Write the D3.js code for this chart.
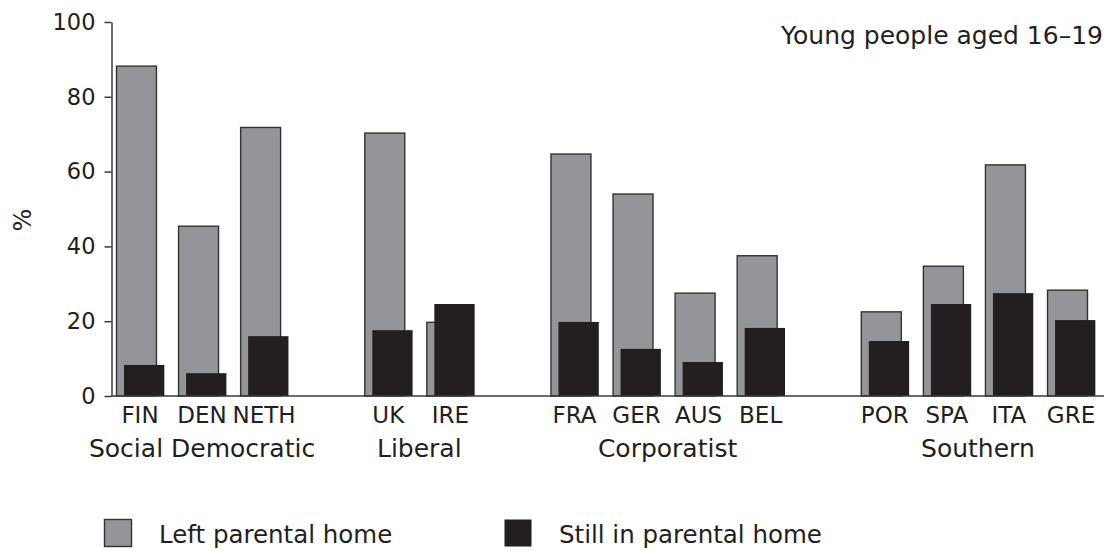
<!DOCTYPE html>
<html>
<head>
<meta charset="utf-8">
<script src="https://cdn.jsdelivr.net/npm/d3@7"></script>
<style>
  html, body { margin: 0; padding: 0; background: #fff; }
  svg { display: block; }
  text { font-family: "DejaVu Sans", sans-serif; fill: #231f20; }
</style>
</head>
<body>
<svg id="chart" width="1112" height="551"></svg>
<script>
// ---- Data ----
const groups = ["Social Democratic", "Liberal", "Corporatist", "Southern"];
const groupCountries = [
  ["FIN", "DEN", "NETH"],
  ["UK", "IRE"],
  ["FRA", "GER", "AUS", "BEL"],
  ["POR", "SPA", "ITA", "GRE"]
];
const countries = ["FIN","DEN","NETH","UK","IRE","FRA","GER","AUS","BEL","POR","SPA","ITA","GRE"];
const leftHome  = [88.2, 45.4, 71.8, 70.3, 19.7, 64.7, 54.0, 27.5, 37.5, 22.5, 34.7, 61.8, 28.3];
const stillHome = [ 8.3,  6.1, 16.0, 17.6, 24.6, 19.8, 12.6,  9.1, 18.2, 14.7, 24.6, 27.5, 20.3];
const seriesNames = ["Left parental home", "Still in parental home"];
const yTicks = [0, 20, 40, 60, 80, 100];
const title = "Young people aged 16\u201319";
const yLabel = "%";

// ---- Layout ----
const svg = d3.select("#chart");
const greyFill = "#939598", blackFill = "#231f20", axisCol = "#3a3a3a";

// slot domain: countries with a spacer between groups
const slots = [];
groupCountries.forEach((cs, i) => {
  cs.forEach(c => slots.push(c));
  if (i < groupCountries.length - 1) slots.push("_gap" + i);
});

const x = d3.scaleBand().domain(slots).range([116, 1095]).paddingInner(0.227).paddingOuter(0);
const y = d3.scaleLinear().domain([0, 100]).range([396, 22]);
const bw = x.bandwidth();

// Bars
const data = countries.map((c, i) => ({ c, left: leftHome[i], still: stillHome[i] }));
const g = svg.append("g");
const barG = g.selectAll("g.bar").data(data).join("g").attr("class", "bar");
barG.append("rect")
  .attr("x", d => x(d.c) + 0.5)
  .attr("y", d => y(d.left))
  .attr("width", bw * 0.833)
  .attr("height", d => y(0) - y(d.left))
  .attr("fill", greyFill)
  .attr("stroke", "#333")
  .attr("stroke-width", 1.4);
barG.append("rect")
  .attr("x", d => x(d.c) + bw * 0.167)
  .attr("y", d => y(d.still))
  .attr("width", bw * 0.84)
  .attr("height", d => y(0) - y(d.still))
  .attr("fill", blackFill);

// Y axis
const yAxis = d3.axisLeft(y).tickValues(yTicks).tickSize(7).tickPadding(9).tickSizeOuter(0);
const yg = svg.append("g").attr("transform", "translate(111.5,0)").call(yAxis);
yg.select(".domain").attr("stroke", axisCol).attr("stroke-width", 1.5);
yg.selectAll(".tick line").attr("stroke", axisCol).attr("stroke-width", 1.5);
yg.selectAll(".tick text")
  .attr("font-family", "DejaVu Sans, sans-serif")
  .attr("font-size", 22.5)
  .attr("fill", "#231f20");

// X axis baseline
svg.append("line")
  .attr("x1", 111).attr("x2", 1104)
  .attr("y1", y(0)).attr("y2", y(0))
  .attr("stroke", axisCol).attr("stroke-width", 1.5);

// Country labels
svg.selectAll("text.country").data(countries).join("text")
  .attr("class", "country")
  .attr("x", c => x(c) + bw / 2)
  .attr("y", 423)
  .attr("text-anchor", "middle")
  .attr("font-size", 23)
  .text(c => c);

// Group labels
svg.selectAll("text.group").data(groups).join("text")
  .attr("class", "group")
  .attr("x", (gname, i) => {
    const cs = groupCountries[i];
    return (x(cs[0]) + x(cs[cs.length - 1]) + bw) / 2;
  })
  .attr("y", 457)
  .attr("text-anchor", "middle")
  .attr("font-size", 25)
  .text(gname => gname);

// Title
svg.append("text")
  .attr("x", 1103).attr("y", 44)
  .attr("text-anchor", "end")
  .attr("font-size", 25)
  .text(title);

// Y label
svg.append("text")
  .attr("transform", "translate(31,220) rotate(-90)")
  .attr("text-anchor", "middle")
  .attr("font-size", 24)
  .text(yLabel);

// Legend
const legend = [
  { name: seriesNames[0], fill: greyFill, stroke: "#333", x: 104 },
  { name: seriesNames[1], fill: blackFill, stroke: "none", x: 504 }
];
const lg = svg.selectAll("g.legend").data(legend).join("g").attr("class", "legend");
lg.append("rect")
  .attr("x", d => d.x + 0.5).attr("y", 519.5)
  .attr("width", 27).attr("height", 27)
  .attr("fill", d => d.fill)
  .attr("stroke", d => d.stroke)
  .attr("stroke-width", 1.4);
lg.append("text")
  .attr("x", d => d.x + 55).attr("y", 543)
  .attr("font-size", 24.5)
  .text(d => d.name);
</script>
</body>
</html>
